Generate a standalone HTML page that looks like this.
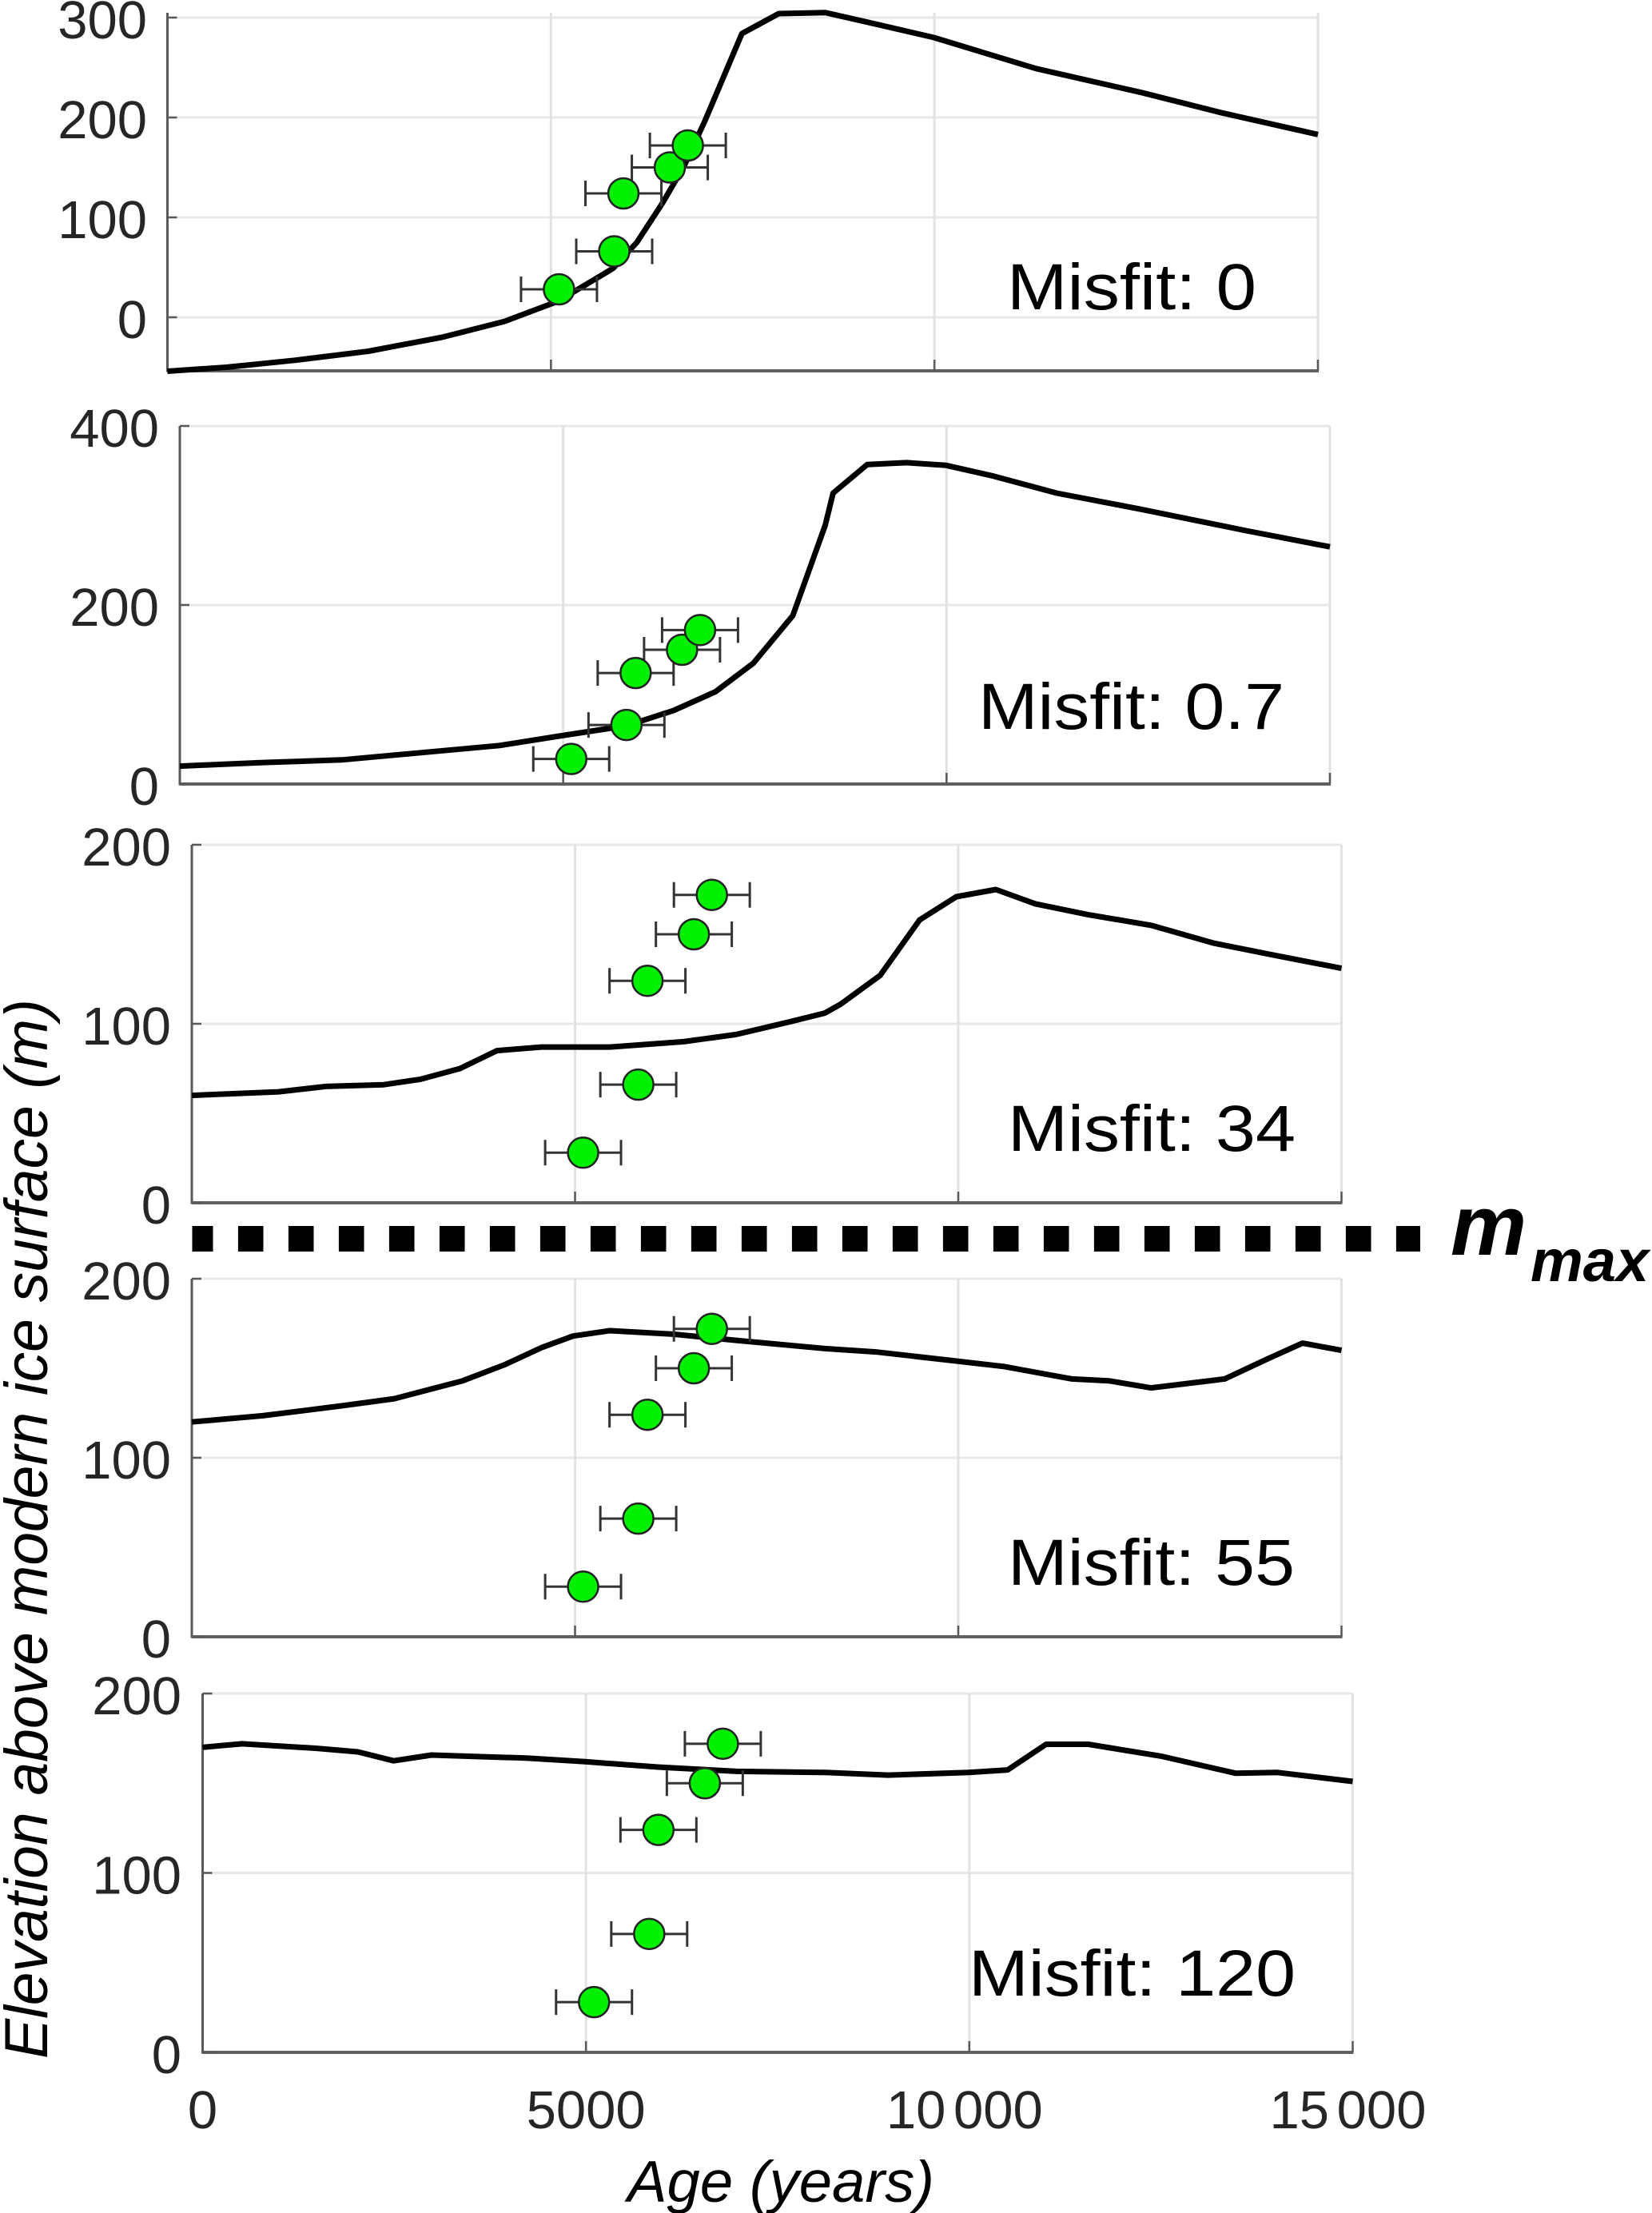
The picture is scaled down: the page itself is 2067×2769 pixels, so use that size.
<!DOCTYPE html>
<html>
<head>
<meta charset="utf-8">
<title>Elevation above modern ice surface vs age</title>
<style>
html,body{margin:0;padding:0;background:#fff;}
svg{display:block;}
text{font-family:"Liberation Sans",sans-serif;}
</style>
</head>
<body>
<svg id="figure" xmlns="http://www.w3.org/2000/svg" width="2067" height="2769" viewBox="0 0 2067 2769">
  <rect x="0" y="0" width="2067" height="2769" fill="#fff"/>
  <g id="panels"></g>
  <line x1="240.5" y1="1550" x2="1777" y2="1550" stroke="#000" stroke-width="32" stroke-dasharray="31.6 31.4" stroke-dashoffset="5.6"/>
  <text x="1815" y="1570" font-size="107" font-weight="bold" font-style="italic" fill="#000">m</text>
  <text x="1915" y="1603" font-size="74" font-weight="bold" font-style="italic" fill="#000">max</text>
  <text transform="translate(59,2576) rotate(-90)" x="0" y="0" font-size="76" font-style="italic" fill="#000" textLength="1326" lengthAdjust="spacingAndGlyphs">Elevation above modern ice surface (m)</text>
  <text x="785" y="2755" font-size="73" font-style="italic" fill="#000" textLength="384" lengthAdjust="spacingAndGlyphs">Age (years)</text>
</svg>
<script>
// Observation data (same dated samples in every panel)
const sampleAges = [5105, 5825, 5945, 6550, 6785];
const sampleElevations = [28, 66, 124, 150, 172];
const sampleAgeError = 495;

// Modelled ice-surface curves, one age + elevation array per panel
const curveAges1 = [0, 769, 1660, 2620, 3580, 4400, 5090, 5810, 6120, 6460, 6740, 7010, 7490, 7970, 8580, 9266, 9994, 11325, 12700, 13730, 15000];
const curveElev1 = [-54, -50, -43, -34, -20, -4, 16, 49, 75, 115, 152, 197, 284, 304, 305, 293, 280, 249, 225, 205, 183];
const curveAges2 = [0, 1084, 2113, 3143, 4172, 4982, 5819, 6436, 6985, 7480, 7994, 8417, 8520, 8966, 9480, 9995, 10612, 11436, 12534, 13907, 15000];
const curveElev2 = [20, 24, 27, 35, 43, 54, 65, 82, 103, 135, 188, 289, 325, 357, 359, 356, 344, 325, 307, 283, 265];
const curveAges3 = [0, 1132, 1750, 2505, 2985, 3500, 3980, 4563, 5455, 6416, 7102, 7788, 8260, 8466, 8980, 9495, 9975, 10490, 11005, 11691, 12514, 13338, 14161, 15000];
const curveElev3 = [60, 62, 65, 66, 69, 75, 85, 87, 87, 90, 94, 101, 106, 111, 127, 158, 171, 175, 167, 161, 155, 145, 138, 131];
const curveAges4 = [0, 926, 1956, 2642, 3534, 4083, 4563, 4975, 5455, 6280, 7102, 8260, 8946, 9975, 10593, 11485, 11965, 12514, 13475, 14024, 14491, 15000];
const curveElev4 = [120, 123.5, 129, 133, 143, 152, 161.5, 168, 171, 169, 165.6, 161, 159, 154, 151, 144, 143, 139, 144, 155, 164, 160];
const curveAges5 = [0, 515, 1475, 2024, 2491, 2985, 4220, 4989, 5935, 6965, 8119, 8942, 9992, 10500, 11001, 11550, 12511, 13471, 14020, 15000];
const curveElev5 = [170, 172, 169.5, 167.5, 162.5, 165.7, 164, 162, 159, 156.6, 156, 154.5, 156, 157.4, 171.7, 171.7, 165, 155.6, 156, 151];

// Axis tick values and labels
const xTickValues = [5000, 10000, 15000];
const xTickLabels = ['0', '5000', '10 000', '15 000'];
const xLabelValues = [0, 5000, 10000, 15000];
const yTicks1 = [0, 100, 200, 300];
const yTicks2 = [0, 200, 400];
const yTicks3 = [0, 100, 200];
const yTicks4 = [0, 100, 200];
const yTicks5 = [0, 100, 200];
const misfitLabels = ['Misfit: 0', 'Misfit: 0.7', 'Misfit: 34', 'Misfit: 55', 'Misfit: 120'];

// Panel geometry (plot frames in figure pixels)
const panels = [
  {left:209.5, right:1649,   top:16,   bottom:464,  zero:397,  pxPerM:1.25,  labelEdge:184, ages:curveAges1, elev:curveElev1, ticks:yTicks1, mx:1260, mw:312, my:387},
  {left:225,   right:1664,   top:533,  bottom:981,  zero:981,  pxPerM:1.12,  labelEdge:199, ages:curveAges2, elev:curveElev2, ticks:yTicks2, mx:1224, mw:383, my:912},
  {left:240,   right:1678.5, top:1057, bottom:1505, zero:1505, pxPerM:2.24,  labelEdge:214, ages:curveAges3, elev:curveElev3, ticks:yTicks3, mx:1261, mw:360, my:1440},
  {left:240,   right:1678.5, top:1600, bottom:2048, zero:2048, pxPerM:2.24,  labelEdge:214, ages:curveAges4, elev:curveElev4, ticks:yTicks4, mx:1261, mw:359, my:1983},
  {left:253.5, right:1692.5, top:2119, bottom:2568, zero:2568, pxPerM:2.245, labelEdge:227, ages:curveAges5, elev:curveElev5, ticks:yTicks5, mx:1212, mw:409, my:2497}
];

const NS = 'http://www.w3.org/2000/svg';
const AGE_MAX = 15000;
function mk(tag, attrs, parent) {
  const el = document.createElementNS(NS, tag);
  for (const k in attrs) el.setAttribute(k, attrs[k]);
  parent.appendChild(el);
  return el;
}
const root = document.getElementById('panels');

panels.forEach(function (p, i) {
  const xScale = function (age) { return p.left + age * (p.right - p.left) / AGE_MAX; };
  const yScale = function (m) { return p.zero - m * p.pxPerM; };
  const panelNo = i + 1;

  const g = mk('g', {}, root);
  
  

  // gridlines
  p.ticks.forEach(function (t) {
    const gl = mk('line', {x1:p.left, x2:p.right, y1:yScale(t), y2:yScale(t), stroke:'#e8e8e8', 'stroke-width':3}, g);
    
    
  });
  xTickValues.forEach(function (t) {
    const gl = mk('line', {x1:xScale(t), x2:xScale(t), y1:p.top, y2:p.bottom, stroke:'#e2e2e2', 'stroke-width':3}, g);
    
    
  });

  // axes and ticks
  const yAxis = mk('line', {x1:p.left, x2:p.left, y1:p.top, y2:p.bottom + 1.5, stroke:'#595959', 'stroke-width':3}, g);
  
  
  const xAxis = mk('line', {x1:p.left, x2:p.right + 1, y1:p.bottom, y2:p.bottom, stroke:'#606060', 'stroke-width':4}, g);
  
  

  p.ticks.forEach(function (t) {
    const tk = mk('line', {x1:p.left, x2:p.left + 12, y1:yScale(t), y2:yScale(t), stroke:'#595959', 'stroke-width':2.5}, g);
    
    
    const lb = mk('text', {x:p.labelEdge, y:yScale(t) + 26, 'text-anchor':'end', 'font-size':67, fill:'#262626'}, g);
    
    
    lb.textContent = String(t);
  });
  xTickValues.forEach(function (t) {
    const tk = mk('line', {x1:xScale(t), x2:xScale(t), y1:p.bottom - 14, y2:p.bottom, stroke:'#595959', 'stroke-width':2.5}, g);
    
    
  });

  // model curve
  let d = '';
  p.ages.forEach(function (a, j) {
    d += (j ? 'L' : 'M') + xScale(a).toFixed(1) + ' ' + yScale(p.elev[j]).toFixed(1);
  });
  const curve = mk('path', {d:d, fill:'none', stroke:'#000', 'stroke-width':7, 'stroke-linejoin':'round'}, g);
  
  

  // error bars and sample markers
  sampleAges.forEach(function (a, j) {
    const cy = yScale(sampleElevations[j]);
    const x1 = xScale(a - sampleAgeError);
    const x2 = xScale(a + sampleAgeError);
    const eb = mk('path', {d:'M' + x1 + ' ' + cy + 'H' + x2 + 'M' + x1 + ' ' + (cy - 16) + 'V' + (cy + 16) + 'M' + x2 + ' ' + (cy - 16) + 'V' + (cy + 16), fill:'none', stroke:'#333', 'stroke-width':3}, g);
    
    
  });
  sampleAges.forEach(function (a, j) {
    const pt = mk('circle', {cx:xScale(a), cy:yScale(sampleElevations[j]), r:19, fill:'#00f000', stroke:'#222', 'stroke-width':2.5}, g);
    
    
  });

  // misfit annotation
  const m = mk('text', {x:p.mx, y:p.my, 'font-size':82, fill:'#000', textLength:p.mw, lengthAdjust:'spacingAndGlyphs'}, g);
  
  
  m.textContent = misfitLabels[i];

  // x tick labels only on the bottom panel
  if (i === panels.length - 1) {
    xLabelValues.forEach(function (v, j) {
      const lb = mk('text', {x:xScale(v) - (v > 5000 ? 6 : 0), y:2663, 'text-anchor':'middle', 'font-size':67, fill:'#262626', 'word-spacing':'-9px'}, g);
      
      
      lb.textContent = xTickLabels[j];
    });
  }
});
</script>
</body>
</html>
